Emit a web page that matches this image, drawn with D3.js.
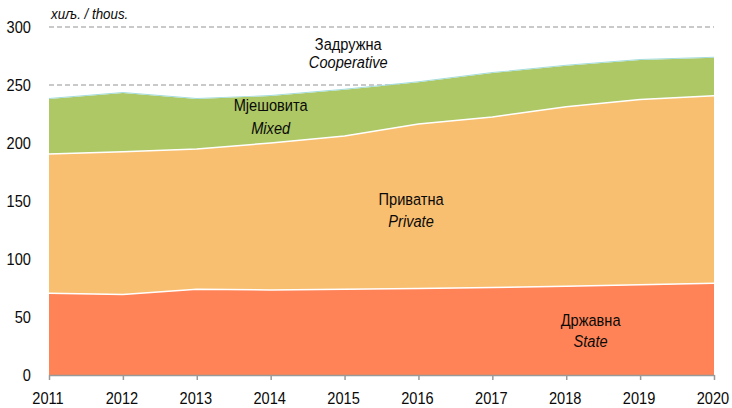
<!DOCTYPE html>
<html><head><meta charset="utf-8">
<script src="https://cdn.jsdelivr.net/npm/d3@7"></script>
<style>body{margin:0;background:#fff}svg{display:block}text{font-family:"Liberation Sans",Arial,sans-serif;fill:#0a0a0a}</style>
</head><body><svg id="c" width="732" height="408"></svg>
<script>
const years = [2011,2012,2013,2014,2015,2016,2017,2018,2019,2020];
const state = [70.5,69.3,74.0,73.3,74.0,74.5,75.5,76.5,77.8,79.0];
const privateS = [120.0,123.2,120.8,126.7,132.0,141.9,147.0,154.8,159.8,161.8];
const mixed = [47.5,50.6,43.2,40.5,40.0,36.0,37.8,35.3,34.0,32.7];
const cooperative = [0.8,0.8,0.8,0.8,0.8,0.8,0.8,0.8,0.8,0.8];
const yTicks = [0,50,100,150,200,250,300];
const keys = ["state","private","mixed","cooperative"];
const colors = {state:"#FF8356",private:"#F9BF71",mixed:"#ADC865",cooperative:"#A4DCDC"};
const labels = [
  {k:"cooperative",sr:"Задружна",en:"Cooperative",x:2015.05,y:[285.5,269.5]},
  {k:"mixed",sr:"Мјешовита",en:"Mixed",x:2014.0,y:[233,213]},
  {k:"private",sr:"Приватна",en:"Private",x:2015.9,y:[151.5,133]},
  {k:"state",sr:"Државна",en:"State",x:2018.33,y:[47,29.5]}
];
const data = years.map((y,i)=>({year:y,state:state[i],private:privateS[i],mixed:mixed[i],cooperative:cooperative[i]}));
const svg = d3.select("#c");
const x = d3.scaleLinear().domain([2011,2020]).range([49,714]);
const y = d3.scaleLinear().domain([0,300]).range([375,27]);
const SX = 0.86;
function txt(px, py, str, size, anchor, italic){
  return svg.append("text").attr("transform",`translate(${px},${py}) scale(${SX},1)`)
    .attr("dy","0.35em").attr("text-anchor",anchor).style("font-size",size+"px")
    .style("font-style",italic?"italic":"normal").text(str);
}
// gridlines
svg.append("g").selectAll("line").data(yTicks.filter(d=>d>0)).join("line")
  .attr("x1",49).attr("x2",714).attr("y1",d=>y(d)).attr("y2",d=>y(d))
  .attr("stroke","#b8b8b8").attr("stroke-width",1.5).attr("stroke-dasharray","5,3");
const series = d3.stack().keys(keys)(data);
const area = d3.area().x(d=>x(d.data.year)).y0(d=>y(d[0])).y1(d=>y(d[1]));
svg.append("g").selectAll("path").data(series).join("path")
  .attr("d",area).attr("fill",d=>colors[d.key]);
const line = d3.line().x(d=>x(d.data.year)).y(d=>y(d[1]));
svg.append("g").selectAll("path").data(series.slice(0,2)).join("path")
  .attr("d",line).attr("fill","none").attr("stroke","#fff").attr("stroke-width",1.5);
// y axis labels
yTicks.forEach(d=>txt(31, y(d), d, 17, "end", false));
// x axis
const xa = svg.append("g").attr("transform","translate(0,375)")
  .call(d3.axisBottom(x).tickValues(years).tickFormat(d3.format("d")).tickSize(5).tickSizeOuter(0));
xa.select(".domain").attr("stroke","#999").attr("stroke-width",1.5);
xa.selectAll(".tick line").attr("stroke","#999").attr("stroke-width",1.5);
xa.selectAll(".tick text").remove();
years.forEach(d=>txt(x(d)-1, 398, d, 17, "middle", false));
// unit
txt(51, 14, "хиљ. / thous.", 15.5, "start", true);
// series labels
labels.forEach(l=>{
  txt(x(l.x), y(l.y[0]), l.sr, 17, "middle", false);
  txt(x(l.x), y(l.y[1]), l.en, 17, "middle", true);
});
</script></body></html>
